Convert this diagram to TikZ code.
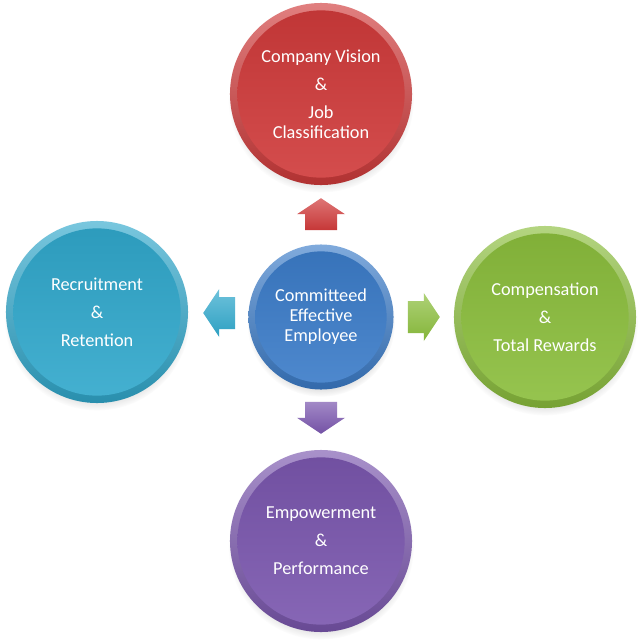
\documentclass[tikz,border=0pt]{standalone}
\usepackage{fontspec}
\setmainfont{Carlito}
\usetikzlibrary{shadows,calc}
\definecolor{cRed}{HTML}{D03A3A}
\definecolor{cCyan}{HTML}{30A8CC}
\definecolor{cGreen}{HTML}{8BBE3C}
\definecolor{cPurple}{HTML}{7A56AE}
\definecolor{cBlue}{HTML}{3B7CC9}
\tikzset{
  ball/.style n args={3}{circle, minimum size=#2, inner sep=0pt, text=white,
    font=\fontsize{13}{14.2}\selectfont, align=center,
    shading=axis, top color=#1!65!white, bottom color=#1!85!black,
    circular drop shadow={shadow xshift=0pt, shadow yshift=-4pt, opacity=0.3, shadow scale=1.02},
    path picture={\shade[top color=#1!92!black, bottom color=#1!90!white]
      (path picture bounding box.center) circle (#3);}},
  bigball/.style={ball={#1}{4.55cm}{2.09cm}},
  blockarrow/.pic={\shade[top color=#1!70!white, bottom color=#1!95!black]
      (0,-16) -- (24,0) -- (16,0) -- (16,16) -- (-16,16) -- (-16,0) -- (-24,0) -- cycle;}
}
\begin{document}
\begin{tikzpicture}[x=0.025cm, y=-0.025cm]
\useasboundingbox[fill=white] (0,0) rectangle (640,640);
\node[bigball=cRed] (vision) at (321,94)
  {Company Vision\\[5.6pt]\&\\[5.6pt]Job\\Classification};
\node[bigball=cCyan] (recruit) at (97,312)
  {Recruitment\\[5.6pt]\&\\[5.6pt]Retention};
\node[bigball=cGreen] (comp) at (545,317)
  {Compensation\\[5.6pt]\&\\[5.6pt]Total Rewards};
\node[bigball=cPurple] (empower) at (321,541)
  {Empowerment\\[5.6pt]\&\\[5.6pt]Performance};
\node[ball={cBlue}{3.625cm}{1.64cm}] (core) at (321,317)
  {Committeed\\Effective\\Employee};
\pic at ($(core.north)+(0,-30)$) {blockarrow=cRed};
\pic[rotate=90] at ($(core.west)+(-29,-4)$) {blockarrow=cCyan};
\pic[rotate=-90] at ($(core.east)+(30,0)$) {blockarrow=cGreen};
\pic[rotate=180] at ($(core.south)+(0,28)$) {blockarrow=cPurple};
\end{tikzpicture}
\end{document}
